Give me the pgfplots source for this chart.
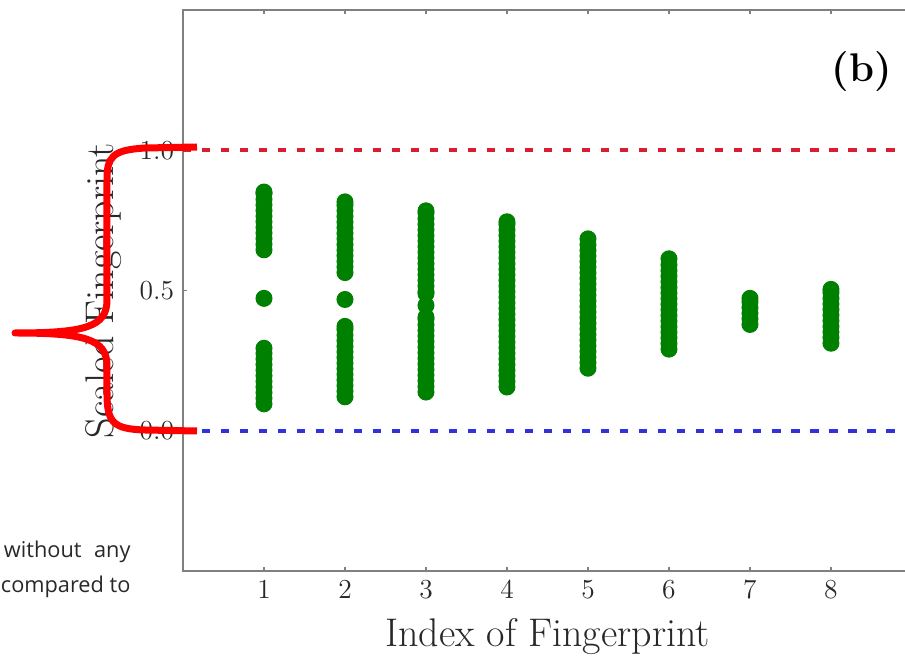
\documentclass[border=0pt]{standalone}
\usepackage{fontspec}
\newfontfamily\opensans{Open Sans}
\usepackage{pgfplots}
\pgfplotsset{compat=1.18}
\definecolor{mplgreen}{RGB}{0,128,0}
\definecolor{mplred}{RGB}{215,30,50}
\definecolor{mplblue}{RGB}{50,50,220}
\definecolor{spine}{RGB}{128,128,128}
\definecolor{txt}{RGB}{40,40,40}
\pgfplotsset{fp/.style={only marks, mark=*, mark size=3.2pt, color=mplgreen, mark options={draw=mplgreen, fill=mplgreen}}}
\begin{document}
\begin{tikzpicture}
\begin{axis}[
  at={(0,0)}, anchor=south west,
  scale only axis, width=291.6pt, height=224.4pt,
  xmin=0, xmax=9, ymin=-0.5, ymax=1.5,
  xtick={1,...,8}, ytick={0,0.5,1},
  yticklabel style={/pgf/number format/.cd, fixed, fixed zerofill, precision=1},
  /pgf/number format/assume math mode=true,
  tick label style={font=\fontsize{11}{13}\selectfont, text=txt},
  tick align=inside, major tick length=1.6pt, tick style={spine, line width=0.6pt},
  axis line style={spine, line width=1pt},
  xlabel={Index of Fingerprint}, ylabel={Scaled Fingerprint},
  every axis x label/.style={at={(axis description cs:0.5,-0.1337)}, anchor=base, font=\fontsize{16}{19}\selectfont, text=txt},
  every axis y label/.style={at={(axis description cs:-0.096,0.5)}, anchor=base, rotate=90, font=\fontsize{16}{19}\selectfont, text=txt},
  clip=false,
]
\addplot[mplred, line width=1.6pt, dash pattern=on 3.4pt off 4.2pt] coordinates {(0,1) (9,1)};
\addplot[mplblue, line width=1.6pt, dash pattern=on 3.4pt off 4.2pt] coordinates {(0,0) (9,0)};
\addplot[fp] coordinates {(1,0.645) (1,0.665) (1,0.685) (1,0.705) (1,0.725) (1,0.745) (1,0.765) (1,0.785) (1,0.805) (1,0.825) (1,0.845) (1,0.851)
 (1,0.472)
 (1,0.096) (1,0.116) (1,0.136) (1,0.156) (1,0.176) (1,0.196) (1,0.216) (1,0.236) (1,0.256) (1,0.276) (1,0.294)};
\addplot[fp] coordinates {(2,0.564) (2,0.584) (2,0.604) (2,0.624) (2,0.644) (2,0.664) (2,0.684) (2,0.704) (2,0.724) (2,0.744) (2,0.764) (2,0.784) (2,0.804) (2,0.816)
 (2,0.468)
 (2,0.121) (2,0.141) (2,0.161) (2,0.181) (2,0.201) (2,0.221) (2,0.241) (2,0.261) (2,0.281) (2,0.301) (2,0.321) (2,0.341) (2,0.361) (2,0.372)};
\addplot[fp] coordinates {(3,0.138) (3,0.158) (3,0.178) (3,0.198) (3,0.218) (3,0.238) (3,0.258) (3,0.278) (3,0.298) (3,0.318) (3,0.338) (3,0.358) (3,0.378) (3,0.398) (3,0.405)
 (3,0.447) (3,0.489) (3,0.496) (3,0.516) (3,0.536) (3,0.556) (3,0.576) (3,0.596) (3,0.616) (3,0.636) (3,0.656) (3,0.676) (3,0.696) (3,0.716) (3,0.736) (3,0.756) (3,0.776) (3,0.784)};
\addplot[fp] coordinates {(4,0.156) (4,0.176) (4,0.196) (4,0.216) (4,0.236) (4,0.256) (4,0.276) (4,0.296) (4,0.316) (4,0.336) (4,0.356) (4,0.376) (4,0.396) (4,0.416) (4,0.436) (4,0.456)
 (4,0.476) (4,0.496) (4,0.516) (4,0.536) (4,0.556) (4,0.576) (4,0.596) (4,0.616) (4,0.636) (4,0.656) (4,0.676) (4,0.696) (4,0.716) (4,0.736) (4,0.745)};
\addplot[fp] coordinates {(5,0.223) (5,0.243) (5,0.263) (5,0.283) (5,0.303) (5,0.323) (5,0.343) (5,0.363) (5,0.383) (5,0.403) (5,0.423) (5,0.443)
 (5,0.463) (5,0.483) (5,0.503) (5,0.523) (5,0.543) (5,0.563) (5,0.583) (5,0.603) (5,0.623) (5,0.643) (5,0.663) (5,0.684)};
\addplot[fp] coordinates {(6,0.291) (6,0.311) (6,0.331) (6,0.351) (6,0.371) (6,0.391) (6,0.411) (6,0.431) (6,0.451) (6,0.471) (6,0.491) (6,0.511) (6,0.531) (6,0.551) (6,0.571) (6,0.591) (6,0.613)};
\addplot[fp] coordinates {(7,0.379) (7,0.399) (7,0.419) (7,0.439) (7,0.459) (7,0.472)};
\addplot[fp] coordinates {(8,0.312) (8,0.332) (8,0.352) (8,0.372) (8,0.392) (8,0.412) (8,0.432) (8,0.452) (8,0.472) (8,0.492) (8,0.504)};
\end{axis}
\begin{scope}[x=0.4pt, y=-0.4pt, shift={(-73.2pt,228.4pt)}]
  \draw[red, line width=2.8pt, line join=round]
    (197,147) -- (145,148) .. controls (112,150) and (107,157) .. (107,180)
    -- (107,300) .. controls (107,327) and (85,333) .. (15,333)
    .. controls (85,333) and (107,339) .. (107,366)
    -- (107,392) .. controls (107,422) and (112,429) .. (145,430) -- (197,431);
  \node[font=\fontsize{16}{19}\selectfont\bfseries, text=black] at (862,72) {(b)};
  \node[anchor=base east, font=\opensans\fontsize{8.7}{10}\selectfont, text=txt, inner sep=0pt] at (131,558) {without\hspace{5pt}any};
  \node[anchor=base east, font=\opensans\fontsize{8.7}{10}\selectfont, text=txt, inner sep=0pt] at (131,593) {compared to};
\end{scope}
\pgfresetboundingbox
\path[use as bounding box] (-73.2pt,-34.4pt) rectangle (288.8pt,228.4pt);
\end{tikzpicture}
\end{document}
